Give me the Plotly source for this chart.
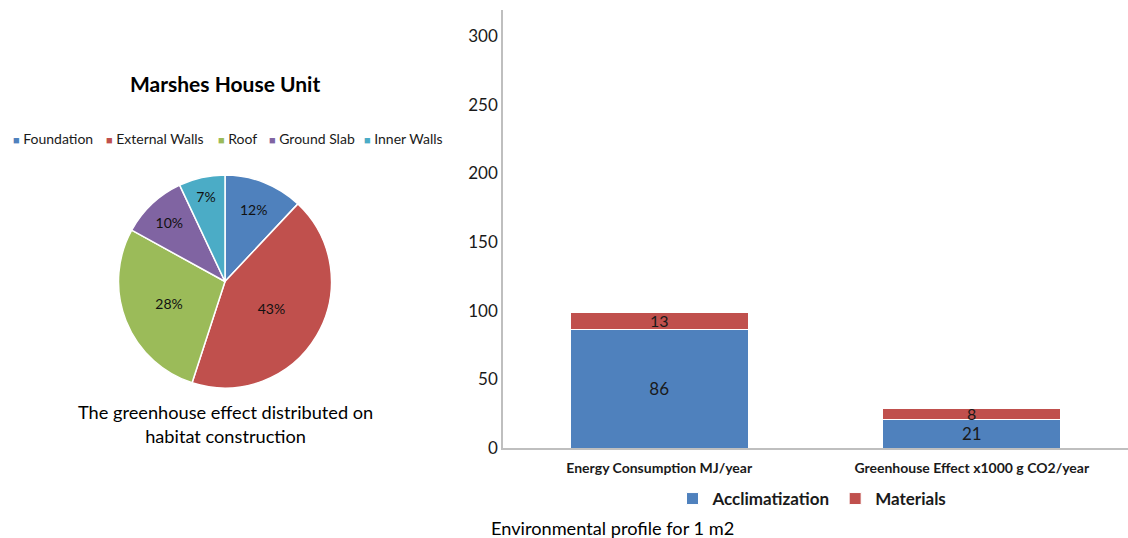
import plotly.graph_objects as go

# Pie data
pie_labels = ["Foundation", "External Walls", "Roof", "Ground Slab", "Inner Walls"]
pie_values = [12, 43, 28, 10, 7]
pie_colors = ["#4F81BD", "#C0504D", "#9BBB59", "#8064A2", "#4BACC6"]

# Bar data
bar_categories = ["Energy Consumption MJ/year", "Greenhouse Effect x1000 g CO2/year"]
acclimatization = [86, 21]
materials = [13, 8]
y_ticks = [0, 50, 100, 150, 200, 250, 300]

FONT = "Lato"
W, H = 1128, 538

# layout positions (px) of the pie legend entries
pie_legend_x = [11, 104, 216, 267, 362]
pie_legend_y = 138

fig = go.Figure()

fig.add_trace(go.Pie(
    labels=pie_labels, values=pie_values, sort=False, direction="clockwise",
    rotation=0,
    marker=dict(colors=pie_colors, line=dict(color="white", width=1.5)),
    texttemplate="%{percent:.0%}", textposition="inside",
    insidetextorientation="horizontal",
    textfont=dict(family=FONT, size=14, color="#111"),
    domain=dict(x=[118 / W, 332 / W], y=[(H - 388) / H, (H - 175) / H]),
    showlegend=False, hoverinfo="label+percent",
))

fig.add_trace(go.Bar(
    x=bar_categories, y=acclimatization, name="Acclimatization",
    marker=dict(color="#4F81BD", line=dict(color="white", width=1)),
    text=acclimatization, textposition="inside", insidetextanchor="middle",
    constraintext="none", textangle=0,
    textfont=dict(family=FONT, size=17, color="#1a1a1a"),
))
fig.add_trace(go.Bar(
    x=bar_categories, y=materials, name="Materials",
    marker=dict(color="#C0504D", line=dict(color="white", width=1)),
    text=materials, textposition="inside", insidetextanchor="middle",
    constraintext="none", textangle=0,
    textfont=dict(family=FONT, size=16, color="#1a1a1a"),
))

annotations = [
    dict(text="<b>Marshes House Unit</b>", x=225 / W, y=(H - 84) / H, xref="paper", yref="paper",
         showarrow=False, xanchor="center", yanchor="middle",
         font=dict(family=FONT, size=21, color="#000")),
    dict(text="The greenhouse effect distributed on<br>habitat construction",
         x=225 / W, y=(H - 424) / H, xref="paper", yref="paper",
         showarrow=False, xanchor="center", yanchor="middle",
         font=dict(family=FONT, size=18.2, color="#000")),
    dict(text="Environmental profile for 1 m2", x=489 / W, y=(H - 528) / H,
         xref="paper", yref="paper", showarrow=False, xanchor="left", yanchor="middle",
         font=dict(family=FONT, size=18.2, color="#000")),
]
for lab, col, px in zip(pie_labels, pie_colors, pie_legend_x):
    annotations.append(dict(
        text=f'<span style="color:{col};font-size:11px">■</span> {lab}',
        x=px / W, y=(H - pie_legend_y) / H, xref="paper", yref="paper",
        showarrow=False, xanchor="left", yanchor="middle",
        font=dict(family=FONT, size=14, color="#1a1a1a"),
    ))

fig.update_layout(
    width=W, height=H,
    margin=dict(l=0, r=0, t=0, b=0),
    paper_bgcolor="white", plot_bgcolor="white",
    font=dict(family=FONT, color="#1a1a1a"),
    barmode="stack", bargap=0.43,
    xaxis=dict(domain=[503 / W, 1.0], showline=True, linecolor="#BFBFBF", linewidth=1.5,
               ticks="", showgrid=False, automargin=False, ticklabelstandoff=6,
               tickfont=dict(family=FONT, size=14, color="#1a1a1a", weight="bold")),
    yaxis=dict(domain=[(H - 448) / H, (H - 10) / H], range=[0, 319],
               tickvals=y_ticks, showline=True, linecolor="#BFBFBF", linewidth=1.5,
               showgrid=False, zeroline=False, ticks="", automargin=False,
               tickfont=dict(family=FONT, size=17, color="#1a1a1a")),
    legend=dict(orientation="h", x=812 / W, xanchor="center", y=(H - 499) / H, yanchor="middle",
                traceorder="normal",
                font=dict(family=FONT, size=17, color="#1a1a1a", weight="bold"),
                itemwidth=30, bgcolor="rgba(0,0,0,0)"),
    showlegend=True,
    annotations=annotations,
)

fig.write_html("out.html")
